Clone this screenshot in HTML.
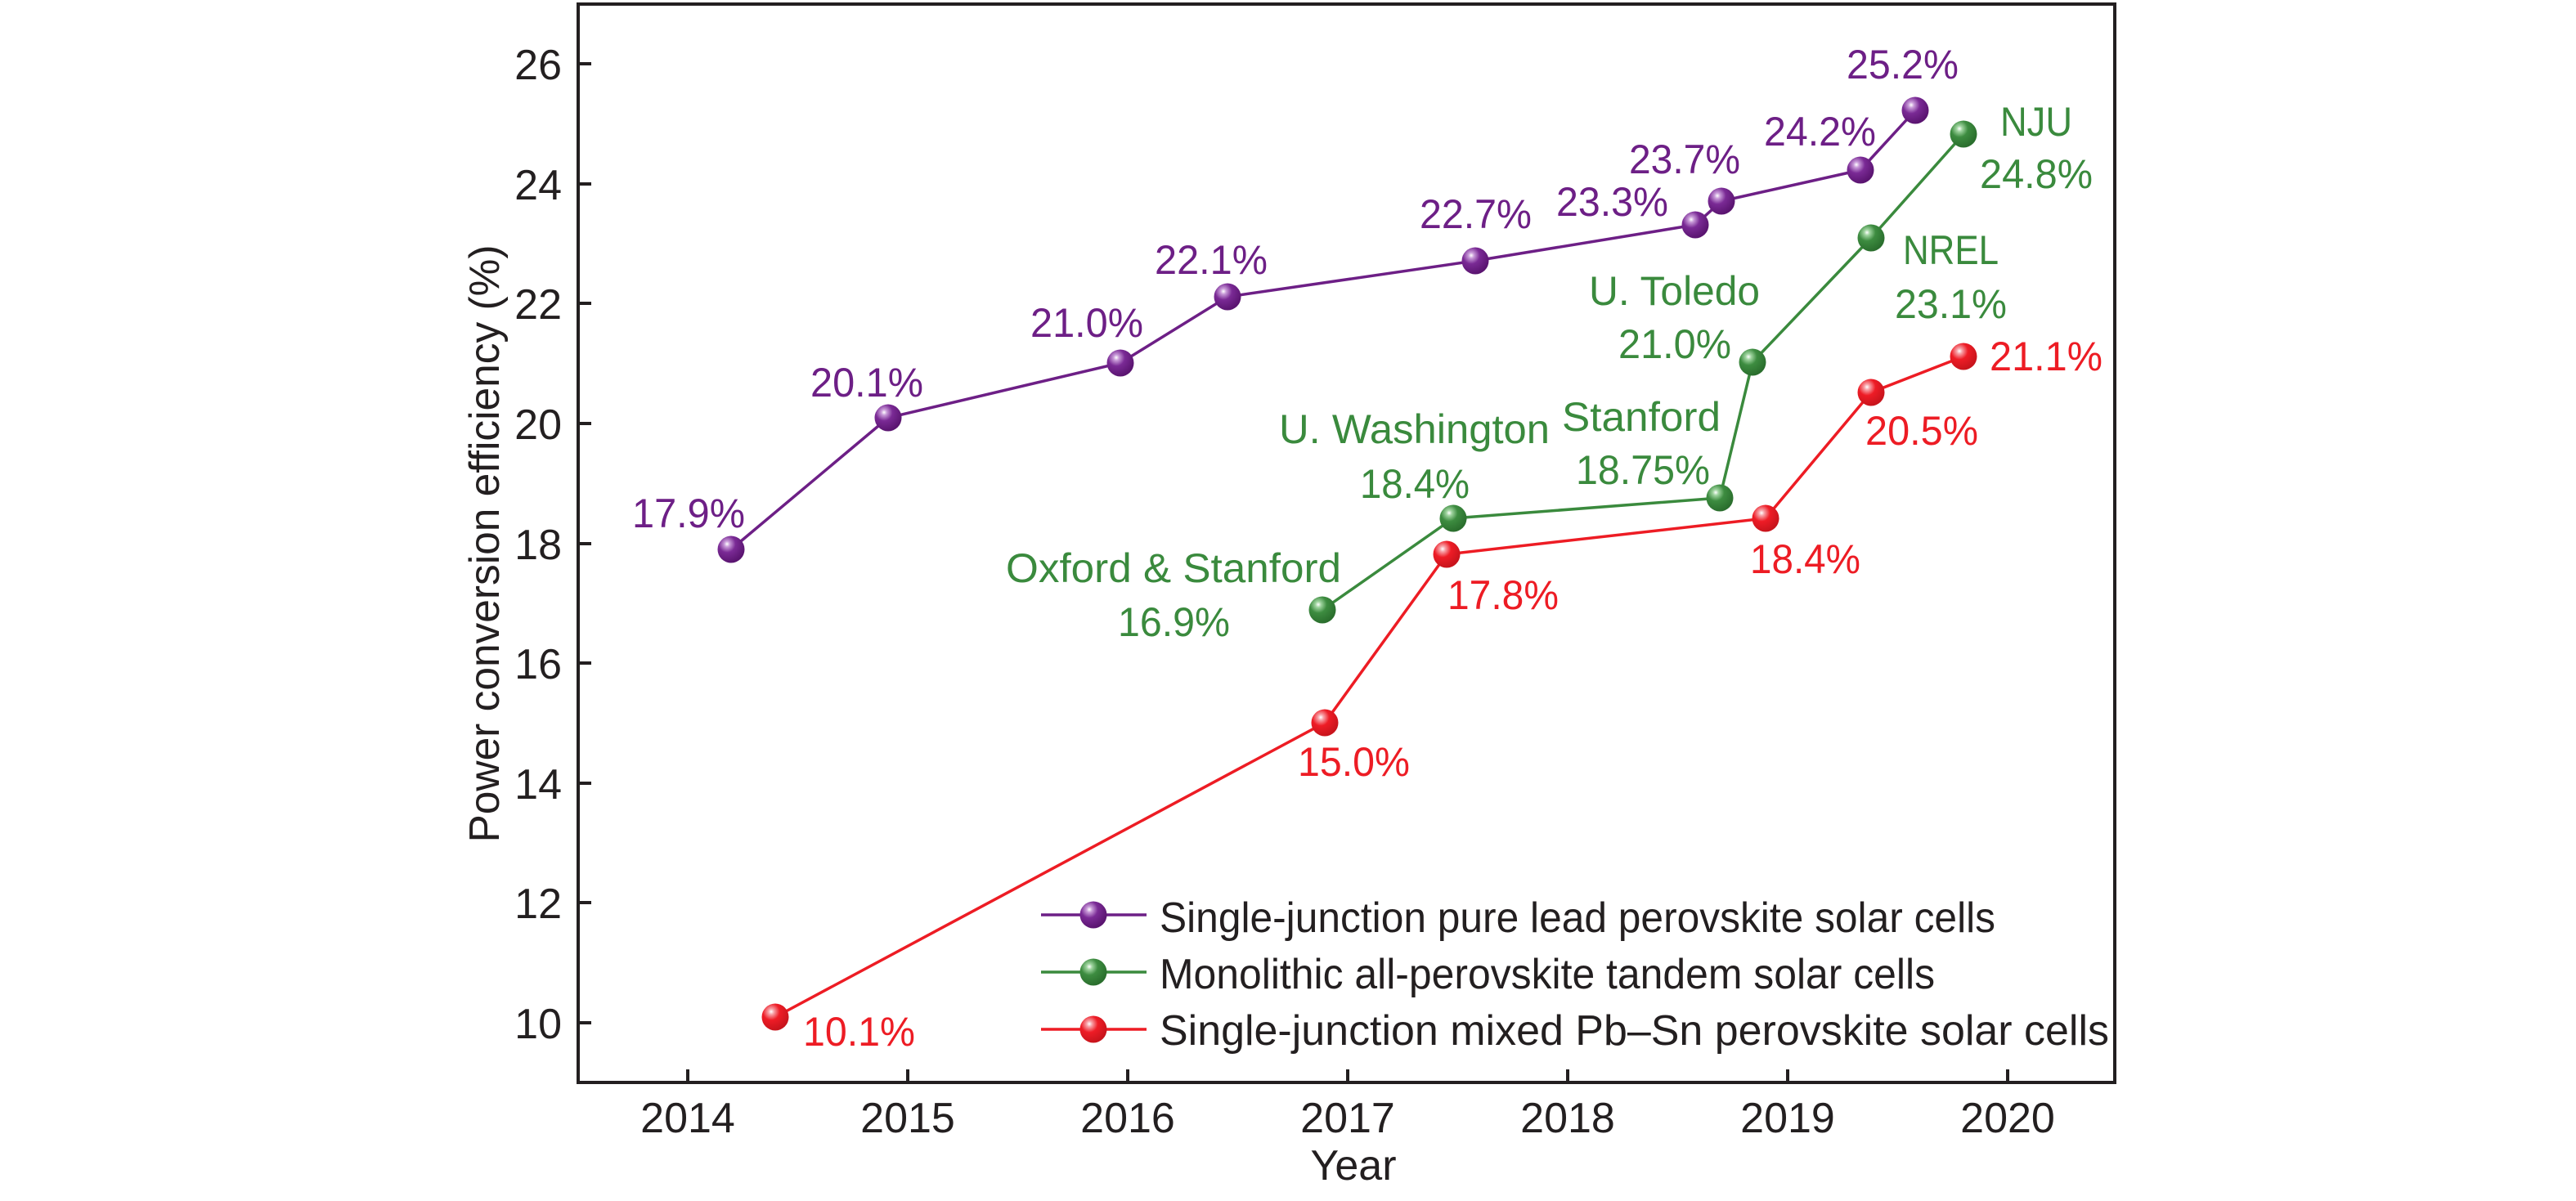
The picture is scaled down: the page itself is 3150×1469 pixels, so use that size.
<!DOCTYPE html>
<html><head><meta charset="utf-8"><style>
html,body{margin:0;padding:0;background:#fff;}
svg{display:block;}
text{font-family:"Liberation Sans",sans-serif;font-size:50px;}
</style></head><body>
<svg width="3150" height="1469" viewBox="0 0 3150 1469" xmlns="http://www.w3.org/2000/svg">
<defs>
<radialGradient id="gp" cx="0.35" cy="0.3" r="0.7"><stop offset="0" stop-color="#fff"/><stop offset="0.15" stop-color="#c89ad8"/><stop offset="0.45" stop-color="#7a2a95"/><stop offset="1" stop-color="#5a1470"/></radialGradient>
<radialGradient id="gg" cx="0.35" cy="0.3" r="0.7"><stop offset="0" stop-color="#fff"/><stop offset="0.15" stop-color="#9fd49f"/><stop offset="0.45" stop-color="#3d8c40"/><stop offset="1" stop-color="#2a6e2d"/></radialGradient>
<radialGradient id="gr" cx="0.35" cy="0.3" r="0.7"><stop offset="0" stop-color="#fff"/><stop offset="0.15" stop-color="#f7a0a6"/><stop offset="0.45" stop-color="#ee1c26"/><stop offset="1" stop-color="#c8141c"/></radialGradient>
</defs>
<rect x="707" y="5" width="1879" height="1319" fill="none" stroke="#231f20" stroke-width="4"/>
<g stroke="#231f20" stroke-width="4">
<line x1="707" y1="1251" x2="723" y2="1251"/><line x1="707" y1="1104" x2="723" y2="1104"/><line x1="707" y1="958" x2="723" y2="958"/><line x1="707" y1="811" x2="723" y2="811"/><line x1="707" y1="665" x2="723" y2="665"/><line x1="707" y1="518" x2="723" y2="518"/><line x1="707" y1="371" x2="723" y2="371"/><line x1="707" y1="225" x2="723" y2="225"/><line x1="707" y1="78" x2="723" y2="78"/>
<line x1="841" y1="1324" x2="841" y2="1308"/><line x1="1110" y1="1324" x2="1110" y2="1308"/><line x1="1379" y1="1324" x2="1379" y2="1308"/><line x1="1648" y1="1324" x2="1648" y2="1308"/><line x1="1917" y1="1324" x2="1917" y2="1308"/><line x1="2186" y1="1324" x2="2186" y2="1308"/><line x1="2455" y1="1324" x2="2455" y2="1308"/>
</g>
<g fill="#231f20" text-anchor="end">
<text x="687" y="1270" style="font-size:52px">10</text><text x="687" y="1123" style="font-size:52px">12</text><text x="687" y="977" style="font-size:52px">14</text><text x="687" y="830" style="font-size:52px">16</text><text x="687" y="684" style="font-size:52px">18</text><text x="687" y="537" style="font-size:52px">20</text><text x="687" y="390" style="font-size:52px">22</text><text x="687" y="244" style="font-size:52px">24</text><text x="687" y="97" style="font-size:52px">26</text>
</g>
<g fill="#231f20" text-anchor="middle">
<text x="841" y="1385" style="font-size:52px">2014</text><text x="1110" y="1385" style="font-size:52px">2015</text><text x="1379" y="1385" style="font-size:52px">2016</text><text x="1648" y="1385" style="font-size:52px">2017</text><text x="1917" y="1385" style="font-size:52px">2018</text><text x="2186" y="1385" style="font-size:52px">2019</text><text x="2455" y="1385" style="font-size:52px">2020</text>
<text x="1655" y="1443" style="font-size:52px">Year</text>
<text transform="translate(610,665) rotate(-90)" x="0" y="0" textLength="731" lengthAdjust="spacingAndGlyphs" style="font-size:52px">Power conversion efficiency (%)</text>
</g>
<polyline fill="none" stroke="#6d1f86" stroke-width="3.5" points="894,672 1086,511 1370,444 1501,363 1804,319 2073,275 2105,246 2275,208 2342,135"/>
<polyline fill="none" stroke="#3a8a3d" stroke-width="3.5" points="1617,746 1777,634 2103,609 2143,443 2288,291 2401,164"/>
<polyline fill="none" stroke="#ed1c24" stroke-width="3.5" points="948,1244 1620,884 1769,678 2159,634 2288,480 2401,436"/>
<g fill="url(#gp)"><circle cx="894" cy="672" r="16.5"/><circle cx="1086" cy="511" r="16.5"/><circle cx="1370" cy="444" r="16.5"/><circle cx="1501" cy="363" r="16.5"/><circle cx="1804" cy="319" r="16.5"/><circle cx="2073" cy="275" r="16.5"/><circle cx="2105" cy="246" r="16.5"/><circle cx="2275" cy="208" r="16.5"/><circle cx="2342" cy="135" r="16.5"/></g>
<g fill="url(#gg)"><circle cx="1617" cy="746" r="16.5"/><circle cx="1777" cy="634" r="16.5"/><circle cx="2103" cy="609" r="16.5"/><circle cx="2143" cy="443" r="16.5"/><circle cx="2288" cy="291" r="16.5"/><circle cx="2401" cy="164" r="16.5"/></g>
<g fill="url(#gr)"><circle cx="948" cy="1244" r="16.5"/><circle cx="1620" cy="884" r="16.5"/><circle cx="1769" cy="678" r="16.5"/><circle cx="2159" cy="634" r="16.5"/><circle cx="2288" cy="480" r="16.5"/><circle cx="2401" cy="436" r="16.5"/></g>
<g fill="#6d1f86">
<text x="773" y="645" textLength="138" lengthAdjust="spacingAndGlyphs">17.9%</text>
<text x="991" y="485" textLength="138" lengthAdjust="spacingAndGlyphs">20.1%</text>
<text x="1260" y="412" textLength="138" lengthAdjust="spacingAndGlyphs">21.0%</text>
<text x="1412" y="335" textLength="138" lengthAdjust="spacingAndGlyphs">22.1%</text>
<text x="1736" y="279" textLength="137" lengthAdjust="spacingAndGlyphs">22.7%</text>
<text x="1903" y="264" textLength="137" lengthAdjust="spacingAndGlyphs">23.3%</text>
<text x="1992" y="212" textLength="136" lengthAdjust="spacingAndGlyphs">23.7%</text>
<text x="2157" y="178" textLength="137" lengthAdjust="spacingAndGlyphs">24.2%</text>
<text x="2258" y="96" textLength="137" lengthAdjust="spacingAndGlyphs">25.2%</text>
</g>
<g fill="#3a8a3d">
<text x="1230" y="712" textLength="410" lengthAdjust="spacingAndGlyphs">Oxford &amp; Stanford</text>
<text x="1367" y="778" textLength="137" lengthAdjust="spacingAndGlyphs">16.9%</text>
<text x="1564" y="542" textLength="331" lengthAdjust="spacingAndGlyphs">U. Washington</text>
<text x="1663" y="609" textLength="134" lengthAdjust="spacingAndGlyphs">18.4%</text>
<text x="1910" y="527" textLength="194" lengthAdjust="spacingAndGlyphs">Stanford</text>
<text x="1927" y="592" textLength="164" lengthAdjust="spacingAndGlyphs">18.75%</text>
<text x="1943" y="373" textLength="209" lengthAdjust="spacingAndGlyphs">U. Toledo</text>
<text x="1979" y="438" textLength="138" lengthAdjust="spacingAndGlyphs">21.0%</text>
<text x="2327" y="323" textLength="117" lengthAdjust="spacingAndGlyphs">NREL</text>
<text x="2317" y="389" textLength="137" lengthAdjust="spacingAndGlyphs">23.1%</text>
<text x="2446" y="166" textLength="88" lengthAdjust="spacingAndGlyphs">NJU</text>
<text x="2421" y="230" textLength="138" lengthAdjust="spacingAndGlyphs">24.8%</text>
</g>
<g fill="#ed1c24">
<text x="982" y="1279" textLength="137" lengthAdjust="spacingAndGlyphs">10.1%</text>
<text x="1587" y="949" textLength="137" lengthAdjust="spacingAndGlyphs">15.0%</text>
<text x="1770" y="745" textLength="136" lengthAdjust="spacingAndGlyphs">17.8%</text>
<text x="2140" y="701" textLength="135" lengthAdjust="spacingAndGlyphs">18.4%</text>
<text x="2281" y="544" textLength="138" lengthAdjust="spacingAndGlyphs">20.5%</text>
<text x="2433" y="453" textLength="138" lengthAdjust="spacingAndGlyphs">21.1%</text>
</g>
<line x1="1273" y1="1119" x2="1402" y2="1119" stroke="#6d1f86" stroke-width="3.5"/>
<line x1="1273" y1="1189" x2="1402" y2="1189" stroke="#3a8a3d" stroke-width="3.5"/>
<line x1="1273" y1="1259" x2="1402" y2="1259" stroke="#ed1c24" stroke-width="3.5"/>
<circle cx="1337" cy="1119" r="16.5" fill="url(#gp)"/>
<circle cx="1337" cy="1189" r="16.5" fill="url(#gg)"/>
<circle cx="1337" cy="1259" r="16.5" fill="url(#gr)"/>
<g fill="#231f20">
<text x="1418" y="1140" textLength="1022" lengthAdjust="spacingAndGlyphs" style="font-size:52px">Single-junction pure lead perovskite solar cells</text>
<text x="1418" y="1209" textLength="948" lengthAdjust="spacingAndGlyphs" style="font-size:52px">Monolithic all-perovskite tandem solar cells</text>
<text x="1418" y="1278" textLength="1161" lengthAdjust="spacingAndGlyphs" style="font-size:52px">Single-junction mixed Pb–Sn perovskite solar cells</text>
</g>
</svg>
</body></html>
